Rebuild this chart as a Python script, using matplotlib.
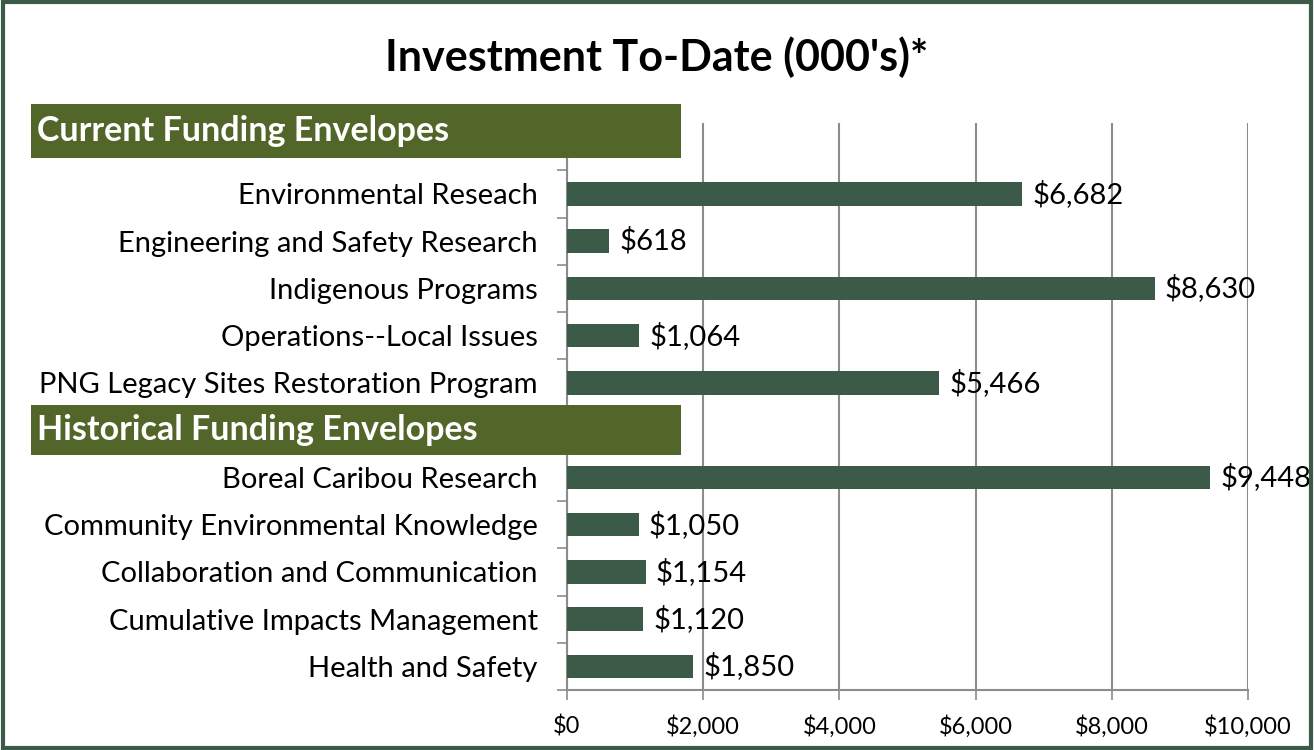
import numpy as np
import matplotlib
matplotlib.use("Agg")
import matplotlib.pyplot as plt
from matplotlib.patches import Rectangle

plt.rcParams['font.family'] = ['Lato', 'DejaVu Sans']

# rows top to bottom; empty strings are the header rows
categories = ["", "Environmental Reseach", "Engineering and Safety Research",
              "Indigenous Programs", "Operations--Local Issues",
              "PNG Legacy Sites Restoration Program", "",
              "Boreal Caribou Research", "Community Environmental Knowledge",
              "Collaboration and Communication", "Cumulative Impacts Management",
              "Health and Safety"]
values = [np.nan, 6682, 618, 8630, 1064, 5466, np.nan, 9448, 1050, 1154, 1120, 1850]
headers = ["Current Funding Envelopes", "Historical Funding Envelopes"]
xticks = [0, 2000, 4000, 6000, 8000, 10000]

bar_color = "#3b5a48"
head_color = "#536629"
grid_color = "#8c8c8c"

fig = plt.figure(figsize=(13.14, 7.5), dpi=100)
ax = fig.add_axes([567/1314, 1-690/750, (1248-567)/1314, (690-123)/750])

y = np.arange(len(categories))
ax.barh(y, values, height=0.5, color=bar_color, zorder=3)
for yi, v in zip(y, values):
    if not np.isnan(v):
        ax.text(v + 150, yi, "${:,.0f}".format(v), va="center", ha="left",
                fontsize=21, zorder=4)

ax.set_ylim(len(categories) - 0.5, -0.5)
ax.set_xlim(0, 10000)
ax.set_yticks(y)
ax.set_yticklabels(categories, fontsize=21)
ax.set_yticks(np.arange(len(categories) + 1) - 0.5, minor=True)
ax.tick_params(axis="y", which="major", length=0, pad=21)
ax.tick_params(axis="y", which="minor", length=7, color=grid_color, width=1.2)
ax.set_xticks(xticks)
ax.set_xticklabels(["${:,}".format(t) for t in xticks], fontsize=17)
ax.tick_params(axis="x", length=7, color=grid_color, width=1.2, pad=11)
ax.grid(axis="x", color=grid_color, linewidth=1.5, zorder=0)
for s in ["top", "right"]:
    ax.spines[s].set_visible(False)
for s in ["left", "bottom"]:
    ax.spines[s].set_color(grid_color)
    ax.spines[s].set_linewidth(1.5)

fig.text(0.5, 1-57/750, "Investment To-Date (000's)*", ha="center", va="center",
         fontsize=31, fontweight="bold")

# header boxes over the empty rows
for (top, bot), txt in zip([(104, 158), (405, 455)], headers):
    fig.add_artist(Rectangle((31/1314, 1-bot/750), (681-31)/1314, (bot-top)/750,
                             transform=fig.transFigure, facecolor=head_color,
                             edgecolor="none", zorder=5))
    fig.text(37/1314, 1-(top+bot)/2/750, txt, ha="left", va="center",
             fontsize=24.5, fontweight="bold", color="white", zorder=6)

fig.add_artist(Rectangle((0.002, 0.003), 0.996, 0.994, transform=fig.transFigure,
                         facecolor="none", edgecolor="#3b5a48", linewidth=3))

fig.savefig("out.png", dpi=100)
